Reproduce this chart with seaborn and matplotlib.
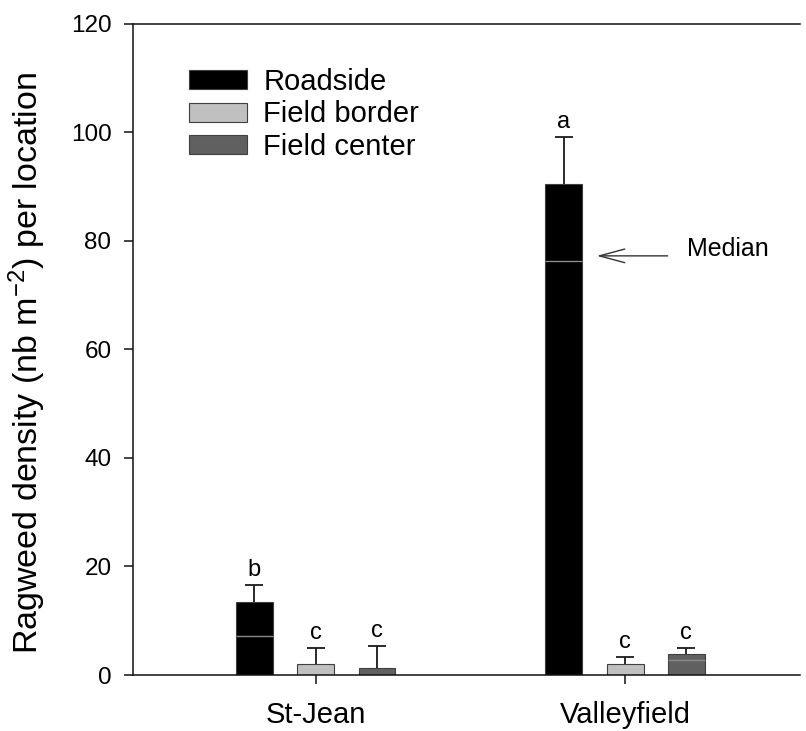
import numpy as np
import pandas as pd
import seaborn as sns
import matplotlib.pyplot as plt

# values
sites = ['St-Jean', 'Valleyfield']
positions = ['Roadside', 'Field border', 'Field center']
mean_stjean = [13.5, 2.0, 1.2]
mean_valley = [90.4, 2.0, 3.9]
err_stjean = [3.0, 3.0, 4.1]
err_valley = [8.7, 1.3, 1.1]
median_stjean = [7.2, np.nan, np.nan]
median_valley = [76.3, np.nan, 2.8]
letters_stjean = ['b', 'c', 'c']
letters_valley = ['a', 'c', 'c']
colors = ['#000000', '#c0c0c0', '#606060']

sns.set_style('ticks')
plt.rcParams['font.family'] = ['Liberation Sans', 'DejaVu Sans']
plt.rcParams['mathtext.fontset'] = 'custom'
plt.rcParams['mathtext.rm'] = 'Liberation Sans'
plt.rcParams['mathtext.it'] = 'Liberation Sans:italic'
plt.rcParams['text.color'] = 'black'
plt.rcParams['axes.labelcolor'] = 'black'
plt.rcParams['xtick.color'] = 'black'
plt.rcParams['ytick.color'] = 'black'

df = pd.DataFrame({
    'site': np.repeat(sites, len(positions)),
    'position': positions * len(sites),
    'density': mean_stjean + mean_valley,
})

fig = plt.figure(figsize=(8.06, 7.31), dpi=100)
ax = fig.add_axes([133/806, 1 - 675/731, (800-133)/806, (675-23.5)/731])

sns.barplot(data=df, x='site', y='density', hue='position', order=sites,
            hue_order=positions, palette=colors, width=0.594, gap=0.4,
            edgecolor='#404040', linewidth=0.8, errorbar=None, ax=ax)
bar_groups = list(ax.containers)

errs = [err_stjean, err_valley]
meds = [median_stjean, median_valley]
letters = [letters_stjean, letters_valley]
for i, cont in enumerate(bar_groups):
    for j, bar in enumerate(cont):
        x = bar.get_x() + bar.get_width() / 2
        h = bar.get_height()
        e = errs[j][i]
        eb = ax.errorbar([x], [h], yerr=[[0], [e]], fmt='none', ecolor='#1a1a1a',
                         elinewidth=1.3, capsize=6.5, capthick=1.3, zorder=1)
        eb[1][0].set_visible(False)  # upper whisker only
        m = meds[j][i]
        if not np.isnan(m):
            ax.hlines(m, bar.get_x(), bar.get_x() + bar.get_width(),
                      color='#8a8a8a', lw=1, zorder=3)
        ax.text(x, h + e + 1.7, letters[j][i], ha='center', va='baseline',
                fontsize=17)

# median arrow on the Valleyfield roadside bar
vb = bar_groups[0][1]
right = vb.get_x() + vb.get_width()
ya = median_valley[0] + 0.9
ax.annotate('', xy=(right + 0.047, ya), xytext=(right + 0.276, ya),
            arrowprops=dict(arrowstyle='->,head_length=1.3,head_width=0.35',
                            mutation_scale=14, lw=1, color='#333333',
                            shrinkA=0, shrinkB=0))
ax.text(right + 0.338, ya, 'Median', fontsize=18, va='baseline', ha='left')

ax.set_xlim(-0.59, 1.565)
ax.set_ylim(0, 120)
ax.set_yticks(range(0, 121, 20))
ax.set_xlabel('')
ax.set_ylabel(r'Ragweed density (nb m$^{-2}$) per location', fontsize=24.5)
ax.yaxis.set_label_coords(-0.128, 0.479)
ax.spines['right'].set_visible(False)
for s in ['left', 'bottom', 'top']:
    ax.spines[s].set_linewidth(1.1)
    ax.spines[s].set_color('#111111')
ax.tick_params(axis='both', direction='out', length=6.5, width=1.1, color='#111111')
ax.tick_params(axis='y', labelsize=17.5, pad=9)
ax.tick_params(axis='x', labelsize=21, pad=12)

ax.legend(loc='upper left', bbox_to_anchor=(189/806, 1 - 68/731),
          bbox_transform=fig.transFigure, frameon=False, fontsize=21,
          handlelength=2.0, handleheight=0.62, handletextpad=0.55,
          labelspacing=0.15, borderpad=0, borderaxespad=0)

fig.savefig('out.png', dpi=100)
